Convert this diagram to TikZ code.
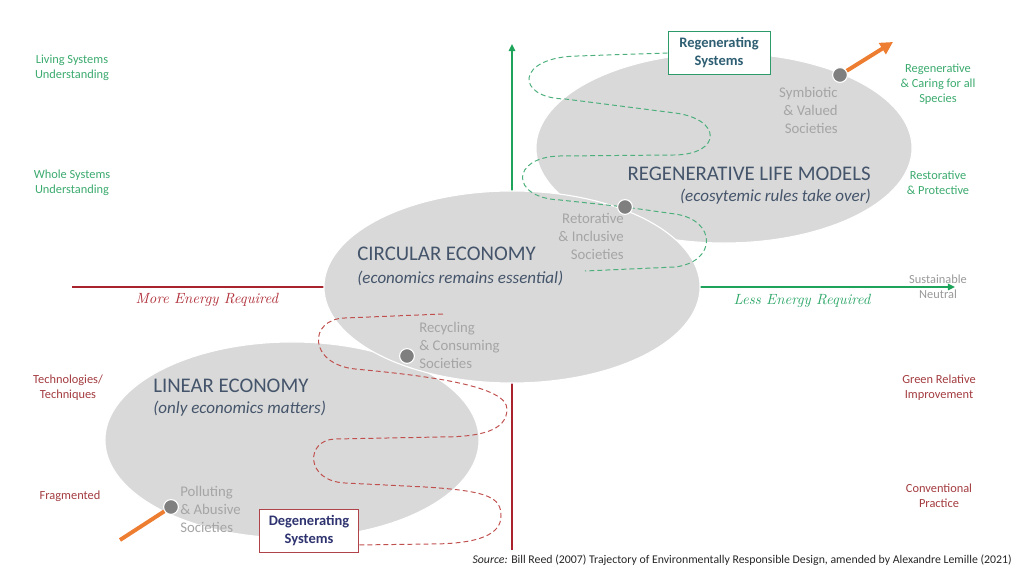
\documentclass[tikz,border=0pt]{standalone}
\usepackage{fontspec}
\setmainfont{Carlito}
\usetikzlibrary{arrows.meta,shapes.geometric}
\definecolor{ellgray}{HTML}{D9D9D9}
\definecolor{ttlcol}{HTML}{44546A}
\definecolor{socgray}{HTML}{A5A5A5}
\definecolor{dotgray}{HTML}{7F7F7F}
\definecolor{lblgreen}{HTML}{3BAA6E}
\definecolor{lblred}{HTML}{A33B3F}
\definecolor{axgreen}{HTML}{1EA35A}
\definecolor{axred}{HTML}{A8232B}
\definecolor{engreen}{HTML}{2EA86A}
\definecolor{enred}{HTML}{B0303A}
\definecolor{trailgreen}{HTML}{4DAF7C}
\definecolor{trailred}{HTML}{C0504D}
\definecolor{arroworange}{HTML}{ED7D31}
\definecolor{regenbord}{HTML}{2E9A6A}
\definecolor{regentext}{HTML}{2E5E72}
\definecolor{degenbord}{HTML}{B0434A}
\definecolor{degentext}{HTML}{2F3470}
\definecolor{neutgray}{HTML}{999999}
\definecolor{srctext}{HTML}{262626}

\begin{document}
\begin{tikzpicture}[x=0.025cm, y=0.025cm,
		>={Triangle[length=5pt, width=4.5pt]},
		blob/.style={ellipse, fill=ellgray, draw=white, line width=0.8pt, inner sep=0pt},
		ttl/.style={inner sep=0pt, text=ttlcol, font=\fontsize{14.8}{17}\selectfont},
		subttl/.style={inner sep=0pt, text=ttlcol, font=\fontsize{12.1}{14}\selectfont\itshape},
		soc/.style={inner sep=0pt, text=socgray, font=\fontsize{10.5}{12.8}\selectfont},
		societydot/.style={circle, fill=dotgray, draw=white, line width=0.8pt, minimum size=0.37cm, inner sep=0pt},
		side/.style={inner sep=0pt, align=center, font=\fontsize{8.8}{10.7}\selectfont},
		energy/.style={inner sep=0pt, font=\fontsize{10.5}{12}\fontfamily{lmr}\selectfont\itshape},
		sysbox/.style={draw, fill=white, line width=0.7pt, align=center, minimum width=2.55cm, minimum height=1.08cm, inner sep=0pt, font=\fontsize{10.3}{12.8}\selectfont\bfseries},
		trail/.style={dash pattern=on 3.5pt off 2.2pt, line width=0.7pt},
		axisline/.style={line width=1.5pt},
		orangeline/.style={arroworange, line width=2.8pt}
	]
			    \useasboundingbox (0, 0) rectangle (1024, 576);
			    \coordinate (pollPt) at (171, 69);
			    \coordinate (recyPt) at (407, 220);
			    \coordinate (retoPt) at (625, 369);
			    \coordinate (symbPt) at (840, 501);
			    \coordinate (origin) at (512, 289);
			    \coordinate (vTop) at (512, 532);
			    \coordinate (vBot) at (512, 26);
			    \coordinate (hLeft) at (72, 289);
			    \coordinate (hRight) at (955, 289);
			    \draw [axisline, axgreen, ->] (origin) -- (vTop);
			    \draw [axisline, axred] (origin) -- (vBot);
			    \draw [axisline, axred] (origin) -- (hLeft);
			    \draw [axisline, axgreen, ->] (origin) -- (hRight);
			    
			    \node [blob, minimum width=9.4cm, minimum height=4.75cm] at (724, 428) (regenEll) {};
			    \node [blob, minimum width=9.35cm, minimum height=4.9cm] at (292, 136) (linEll) {};
			    \node [blob, minimum width=9.4cm, minimum height=4.8cm] at (512, 289) (circEll) {};
			    
			    \node [sysbox, draw=regenbord, text=regentext] at (719, 523) (regenBox) {Regenerating\\Systems};
			    \node [sysbox, draw=degenbord, text=degentext, minimum width=2.45cm] at (309, 45) (degenBox) {Degenerating\\Systems};
			    \coordinate (greenEnd) at (585, 305);
			    \coordinate (redStart) at (443, 262);
			    \coordinate (degenIn) at (degenBox.east |- 0, 31);
			    \draw [trail, trailgreen] (regenBox.west) -- (578, 520) .. controls (515, 519) and (515, 478) .. (565, 477) -- (675, 463) .. controls (722, 457) and (722, 422) .. (675, 421) -- (560, 420) .. controls (510, 419) and (510, 378) .. (560, 376) -- (retoPt) -- (675, 362) .. controls (717, 356) and (717, 314) .. (675, 309) -- (greenEnd);
			    \draw [trail, trailred] (redStart) -- (345, 258) .. controls (308, 257) and (308, 212) .. (355, 207) .. controls (430, 200) and (507, 190) .. (507, 167) .. controls (507, 145) and (480, 139) .. (440, 139) -- (335, 137) .. controls (305, 136) and (305, 95) .. (345, 93) -- (425, 89) .. controls (490, 85) and (501, 78) .. (501, 60) .. controls (501, 42) and (480, 32) .. (430, 32) -- (degenIn);
			    
			    \node [societydot] at (pollPt) (pollDot) {};
			    \node [societydot] at (recyPt) (recyDot) {};
			    \node [societydot] at (retoPt) (retoDot) {};
			    \node [societydot] at (symbPt) (symbDot) {};
			    \coordinate (pollTail) at (120, 36);
			    \coordinate (symbHead) at (893, 534);
			    \draw [orangeline] (pollDot) -- (pollTail);
			    \draw [orangeline, -{Triangle[length=9pt, width=9pt]}] (symbDot) -- (symbHead);
			    
			    \node [soc, anchor=west, align=left] at (180, 67) (pollTxt) {Polluting\\\& Abusive\\Societies};
			    \node [soc, anchor=west, align=left] at (419, 231) (recyTxt) {Recycling\\\& Consuming\\Societies};
			    \node [soc, anchor=east, align=right] at (624, 340) (retoTxt) {Retorative\\\& Inclusive\\Societies};
			    \node [soc, anchor=east, align=right] at (838, 466) (symbTxt) {Symbiotic\\\& Valued\\Societies};
			    
			    \node [ttl, anchor=west] at (153, 190) (linTtl) {LINEAR ECONOMY};
			    \node [subttl, anchor=west] at (153, 167) (linSub) {(only economics matters)};
			    \node [ttl, anchor=west] at (357, 322) (circTtl) {CIRCULAR ECONOMY};
			    \node [subttl, anchor=west] at (357, 298) (circSub) {(economics remains essential)};
			    \node [ttl, anchor=east] at (871, 402) (regenTtl) {REGENERATIVE LIFE MODELS};
			    \node [subttl, anchor=east] at (871, 379) (regenSub) {(ecosytemic rules take over)};
			    
			    \node [side, text=lblgreen] at (72, 508) (livingLbl) {Living Systems\\Understanding};
			    \node [side, text=lblgreen] at (72, 393) (wholeLbl) {Whole Systems\\Understanding};
			    \node [side, text=lblred] at (68, 188) (techLbl) {Technologies/\\Techniques};
			    \node [side, text=lblred] at (70, 80) (fragLbl) {Fragmented};
			    \node [side, text=lblgreen] at (938, 492) (caringLbl) {Regenerative\\\& Caring for all\\Species};
			    \node [side, text=lblgreen] at (938, 393) (restLbl) {Restorative\\\& Protective};
			    \node [side, text=neutgray] at (938, 289) (sustLbl) {Sustainable\\Neutral};
			    \node [side, text=lblred] at (939, 188) (greenRelLbl) {Green Relative\\Improvement};
			    \node [side, text=lblred] at (939, 80) (convLbl) {Conventional\\Practice};
			    
			    \node [energy, text=enred] at (207, 276) (moreLbl) {More Energy Required};
			    \node [energy, text=engreen] at (802, 275) (lessLbl) {Less Energy Required};
			    \node [inner sep=0pt, anchor=east, text=srctext, font=\fontsize{8.4}{10}\selectfont] at (1012, 16) (srcLbl) {\textit{Source:} Bill Reed (2007) Trajectory of Environmentally Responsible Design, amended by Alexandre Lemille (2021)};
		    \end{tikzpicture}
\end{document}
